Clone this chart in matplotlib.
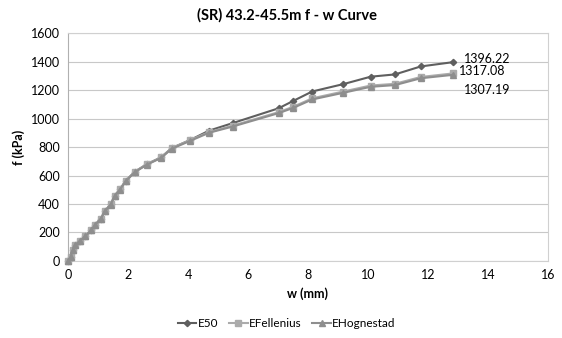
import matplotlib
matplotlib.use("Agg")
import matplotlib.pyplot as plt

w_e50 = [0, 0.09, 0.16, 0.24, 0.40, 0.58, 0.78, 0.91, 1.09, 1.24, 1.42, 1.56, 1.73, 1.93,
         2.23, 2.64, 3.10, 3.46, 4.07, 4.70, 5.49, 7.02, 7.50, 8.14, 9.18, 10.09, 10.90, 11.76, 12.84]
f_e50 = [0, 30, 77, 112, 143, 175, 218, 255, 297, 353, 398, 458, 503, 564,
         627, 681, 727, 793, 849, 915, 968, 1072, 1123, 1190, 1242, 1294, 1310, 1366, 1396.22]

w_fel = [0, 0.09, 0.16, 0.24, 0.40, 0.58, 0.78, 0.91, 1.09, 1.24, 1.42, 1.56, 1.73, 1.93,
         2.23, 2.64, 3.10, 3.46, 4.07, 4.70, 5.49, 7.02, 7.50, 8.14, 9.18, 10.09, 10.90, 11.76, 12.84]
f_fel = [0, 30, 77, 112, 143, 175, 218, 255, 297, 353, 398, 458, 503, 564,
         627, 681, 727, 793, 849, 905, 950, 1045, 1082, 1142, 1190, 1232, 1244, 1292, 1317.08]

w_hog = [0, 0.09, 0.16, 0.24, 0.40, 0.58, 0.78, 0.91, 1.09, 1.24, 1.42, 1.56, 1.73, 1.93,
         2.23, 2.64, 3.10, 3.46, 4.07, 4.70, 5.49, 7.02, 7.50, 8.14, 9.18, 10.09, 10.90, 11.76, 12.84]
f_hog = [0, 30, 77, 111, 142, 174, 217, 254, 296, 351, 396, 456, 501, 561,
         624, 677, 723, 788, 843, 900, 944, 1038, 1074, 1134, 1181, 1223, 1235, 1283, 1307.19]

x_ticks = [0, 2, 4, 6, 8, 10, 12, 14, 16]
y_ticks = [0, 200, 400, 600, 800, 1000, 1200, 1400, 1600]

plt.rcParams['font.family'] = ['Lato', 'DejaVu Sans']

fig = plt.figure(figsize=(5.62, 3.38), dpi=100)
ax = fig.add_axes([0.121, 0.228, 0.854, 0.674])

c_e50 = '#5f5f5f'
c_fel = '#ababab'
c_hog = '#8e8e8e'

ax.plot(w_e50, f_e50, color=c_e50, lw=1.5, marker='D', ms=3.2, label='E50', zorder=3, clip_on=False)
ax.plot(w_fel, f_fel, color=c_fel, lw=1.5, marker='s', ms=4.5, label='EFellenius', zorder=4, clip_on=False)
ax.plot(w_hog, f_hog, color=c_hog, lw=1.5, marker='^', ms=5, label='EHognestad', zorder=5, clip_on=False)

ax.set_xlim(0, 16)
ax.set_ylim(0, 1600)
ax.set_xticks(x_ticks)
ax.set_yticks(y_ticks)
ax.tick_params(length=0, labelsize=9, colors='#000000', pad=6)
ax.grid(axis='y', color='#c8c8c8', lw=0.8)
ax.set_axisbelow(True)
for s in ax.spines.values():
    s.set_color('#d0d0d0')
    s.set_linewidth(0.8)
ax.spines['left'].set_color('#b0b0b0')

ax.set_xlabel('w (mm)', fontsize=9, fontweight='bold', labelpad=4)
ax.set_ylabel('f (kPa)', fontsize=9, fontweight='bold', labelpad=4)
fig.suptitle('(SR) 43.2-45.5m f - w Curve', fontsize=10.5, fontweight='bold', y=0.975, x=0.51)

ax.annotate(f'{f_e50[-1]:.2f}', (w_e50[-1], f_e50[-1]), xytext=(8, 2), textcoords='offset points',
            fontsize=9, va='center', ha='left')
ax.annotate(f'{f_fel[-1]:.2f}', (w_fel[-1], f_fel[-1]), xytext=(4, 2), textcoords='offset points',
            fontsize=9, va='center', ha='left')
ax.annotate(f'{f_hog[-1]:.2f}', (w_hog[-1], f_hog[-1]), xytext=(8, -11), textcoords='offset points',
            fontsize=9, va='center', ha='left')

fig.legend(loc='center', bbox_to_anchor=(0.51, 0.042), ncol=3, frameon=False, fontsize=8.5,
           handlelength=1.6, columnspacing=0.9, handletextpad=0.1)

fig.savefig('out.png', dpi=100)
